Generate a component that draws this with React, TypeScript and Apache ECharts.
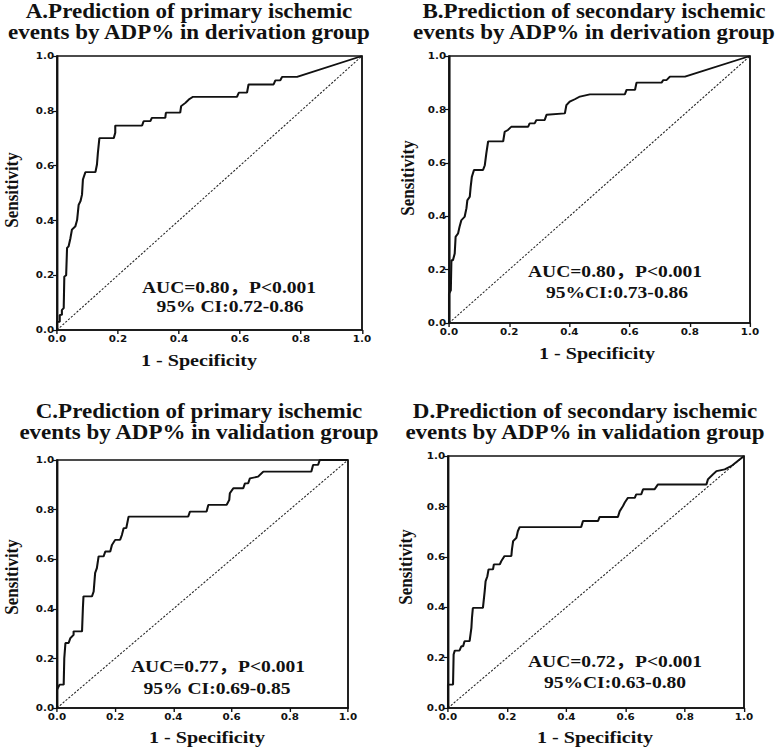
import React, { useEffect, useRef } from "react";
import * as echarts from "echarts";

// ---------- data ----------
const rocA: [number, number][] = [
  [0, 0], [0, 0.03], [0.009, 0.03], [0.009, 0.055], [0.016, 0.055], [0.016, 0.073], [0.022, 0.08], [0.024, 0.08],
  [0.024, 0.195], [0.03, 0.2], [0.033, 0.3], [0.038, 0.305], [0.044, 0.335], [0.049, 0.366], [0.06, 0.378],
  [0.066, 0.402], [0.071, 0.457], [0.077, 0.47], [0.082, 0.494], [0.085, 0.549], [0.093, 0.576], [0.126, 0.576],
  [0.131, 0.604], [0.134, 0.646], [0.139, 0.7], [0.186, 0.7], [0.191, 0.72], [0.191, 0.746], [0.279, 0.746],
  [0.284, 0.762], [0.306, 0.762], [0.311, 0.774], [0.355, 0.774], [0.357, 0.793], [0.404, 0.793], [0.407, 0.817],
  [0.421, 0.829], [0.432, 0.841], [0.446, 0.851], [0.59, 0.851], [0.596, 0.866], [0.623, 0.866], [0.628, 0.896],
  [0.71, 0.896], [0.716, 0.911], [0.732, 0.911], [0.738, 0.924], [0.787, 0.924], [1, 1],
];
const rocB: [number, number][] = [
  [0, 0], [0, 0.11], [0.006, 0.122], [0.008, 0.122], [0.008, 0.235], [0.013, 0.235], [0.019, 0.26], [0.022, 0.323],
  [0.03, 0.335], [0.035, 0.36], [0.041, 0.385], [0.052, 0.398], [0.058, 0.43], [0.061, 0.46], [0.069, 0.473],
  [0.072, 0.51], [0.076, 0.548], [0.083, 0.573], [0.113, 0.573], [0.119, 0.591], [0.124, 0.635], [0.13, 0.68],
  [0.18, 0.68], [0.185, 0.716], [0.196, 0.723], [0.207, 0.735], [0.263, 0.735], [0.268, 0.748], [0.285, 0.748],
  [0.29, 0.76], [0.318, 0.76], [0.324, 0.78], [0.385, 0.785], [0.39, 0.816], [0.401, 0.829], [0.418, 0.838],
  [0.435, 0.848], [0.468, 0.856], [0.584, 0.856], [0.59, 0.873], [0.618, 0.873], [0.623, 0.9], [0.706, 0.9],
  [0.712, 0.91], [0.723, 0.91], [0.734, 0.923], [0.784, 0.923], [1, 1],
];
const rocC: [number, number][] = [
  [0, 0], [0, 0.074], [0.009, 0.094], [0.023, 0.094], [0.025, 0.2], [0.029, 0.262], [0.04, 0.262], [0.046, 0.282],
  [0.057, 0.295], [0.057, 0.309], [0.086, 0.309], [0.089, 0.403], [0.091, 0.45], [0.12, 0.45], [0.126, 0.47],
  [0.131, 0.544], [0.137, 0.564], [0.143, 0.611], [0.16, 0.611], [0.166, 0.631], [0.183, 0.631], [0.189, 0.658],
  [0.2, 0.678], [0.217, 0.678], [0.223, 0.698], [0.229, 0.725], [0.238, 0.725], [0.246, 0.772], [0.451, 0.772],
  [0.457, 0.792], [0.514, 0.792], [0.52, 0.819], [0.583, 0.819], [0.592, 0.839], [0.594, 0.866], [0.606, 0.886],
  [0.64, 0.886], [0.646, 0.906], [0.657, 0.906], [0.663, 0.926], [0.691, 0.933], [0.709, 0.953], [0.874, 0.953],
  [0.88, 0.98], [0.897, 0.98], [0.903, 1], [1, 1],
];
const rocD: [number, number][] = [
  [0, 0], [0, 0.093], [0.017, 0.093], [0.019, 0.212], [0.023, 0.228], [0.039, 0.228], [0.045, 0.245], [0.051, 0.245],
  [0.056, 0.265], [0.073, 0.265], [0.079, 0.318], [0.081, 0.358], [0.084, 0.397], [0.118, 0.397], [0.124, 0.464],
  [0.127, 0.503], [0.133, 0.523], [0.137, 0.55], [0.152, 0.55], [0.155, 0.57], [0.175, 0.57], [0.18, 0.583],
  [0.191, 0.603], [0.214, 0.603], [0.216, 0.629], [0.22, 0.662], [0.231, 0.675], [0.236, 0.702], [0.242, 0.718],
  [0.45, 0.718], [0.456, 0.742], [0.507, 0.742], [0.512, 0.758], [0.574, 0.758], [0.58, 0.781], [0.591, 0.801],
  [0.597, 0.815], [0.608, 0.834], [0.631, 0.834], [0.636, 0.848], [0.653, 0.848], [0.659, 0.868], [0.698, 0.868],
  [0.709, 0.887], [0.873, 0.887], [0.878, 0.907], [0.895, 0.927], [0.907, 0.94], [0.935, 0.947], [0.957, 0.96],
  [1, 1],
];
const referenceLine: [number, number][] = [[0, 0], [1, 1]];

const titlesA = ["A.Prediction of primary ischemic", "events by ADP% in derivation group"];
const titlesB = ["B.Prediction of secondary ischemic", "events by ADP% in derivation group"];
const titlesC = ["C.Prediction of primary ischemic", "events by ADP% in validation group"];
const titlesD = ["D.Prediction of secondary ischemic", "events by ADP% in validation group"];
const statsA = ["AUC=0.80，P<0.001", "95% CI:0.72-0.86"];
const statsB = ["AUC=0.80，P<0.001", "95%CI:0.73-0.86"];
const statsC = ["AUC=0.77，P<0.001", "95% CI:0.69-0.85"];
const statsD = ["AUC=0.72，P<0.001", "95%CI:0.63-0.80"];
const xAxisName = "1 - Specificity";
const yAxisName = "Sensitivity";

// ---------- layout ----------
const S = 1.15; // horizontal stretch of the reference picture
const W = 778;
const H = 748;
const sx = (v: number) => v / S;

type Box = { l: number; t: number; r: number; b: number };
const panels = [
  {
    data: rocA, titles: titlesA, stats: statsA,
    box: { l: 57, t: 56, r: 362, b: 330 } as Box,
    title: { x: 189, y1: 11.5, y2: 33 },
    stat: { x1: 229, y1: 287, x2: 230, y2: 306 },
    yName: { x: 12, y: 190 }, xName: { x: 199, y: 360 },
  },
  {
    data: rocB, titles: titlesB, stats: statsB,
    box: { l: 449, t: 56, r: 750, b: 323 } as Box,
    title: { x: 594, y1: 11.5, y2: 33 },
    stat: { x1: 615, y1: 271, x2: 617, y2: 292 },
    yName: { x: 408, y: 178 }, xName: { x: 597, y: 353 },
  },
  {
    data: rocC, titles: titlesC, stats: statsC,
    box: { l: 57, t: 460, r: 348, b: 708 } as Box,
    title: { x: 199, y1: 411.5, y2: 433 },
    stat: { x1: 218, y1: 666, x2: 217, y2: 688 },
    yName: { x: 12, y: 577 }, xName: { x: 207, y: 737 },
  },
  {
    data: rocD, titles: titlesD, stats: statsD,
    box: { l: 448, t: 456, r: 744, b: 708 } as Box,
    title: { x: 585, y1: 411.5, y2: 433 },
    stat: { x1: 615, y1: 661, x2: 615, y2: 682 },
    yName: { x: 406, y: 567 }, xName: { x: 595, y: 737 },
  },
];

const serif = "'Liberation Serif', 'Noto Sans CJK SC', 'Times New Roman', serif";

function buildOption() {
  const grid: any[] = [];
  const xAxis: any[] = [];
  const yAxis: any[] = [];
  const series: any[] = [];
  const graphic: any[] = [];

  const axisCommon = {
    type: "value",
    min: 0,
    max: 1,
    interval: 0.2,
    splitLine: { show: false },
    axisLine: { show: true, lineStyle: { color: "#111", width: 1.6 } },
    axisTick: { show: true, inside: false, length: 4, lineStyle: { color: "#111", width: 1.2 } },
    axisLabel: {
      color: "#111",
      fontFamily: "'DejaVu Sans', sans-serif",
      fontWeight: "bold",
      fontSize: 9,
      formatter: (v: number) => v.toFixed(1),
    },
  };

  panels.forEach((p, i) => {
    const b = p.box;
    grid.push({
      left: sx(b.l),
      top: b.t,
      width: sx(b.r - b.l),
      height: b.b - b.t,
      show: true,
      borderColor: "#111",
      borderWidth: 1.6,
      backgroundColor: "transparent",
      containLabel: false,
    });
    xAxis.push({
      ...axisCommon,
      gridIndex: i,
      axisLabel: { ...axisCommon.axisLabel, margin: 4, showMinLabel: true, showMaxLabel: true },
    });
    yAxis.push({
      ...axisCommon,
      gridIndex: i,
      axisTick: { ...axisCommon.axisTick, length: 3.5 },
      axisLabel: { ...axisCommon.axisLabel, margin: 2.5, showMinLabel: true, showMaxLabel: true },
    });
    series.push({
      type: "line",
      xAxisIndex: i,
      yAxisIndex: i,
      data: referenceLine,
      showSymbol: false,
      symbol: "none",
      lineStyle: { color: "#222", width: 1, type: [2, 1.5] },
      silent: true,
      z: 2,
    });
    series.push({
      type: "line",
      xAxisIndex: i,
      yAxisIndex: i,
      data: p.data,
      showSymbol: false,
      symbol: "none",
      lineStyle: { color: "#111", width: 1.8 },
      silent: true,
      z: 3,
    });

    const txt = (x: number, y: number, text: string, size: number, rotation = 0) => ({
      type: "text",
      x: sx(x),
      y,
      rotation,
      silent: true,
      style: {
        text,
        fill: "#111",
        fontFamily: serif,
        fontWeight: "bold",
        fontSize: size,
        textAlign: "center",
        textVerticalAlign: "middle",
      },
    });
    graphic.push(txt(p.title.x, p.title.y1, p.titles[0], 20));
    graphic.push(txt(p.title.x, p.title.y2, p.titles[1], 20));
    graphic.push(txt(p.stat.x1, p.stat.y1, p.stats[0], 17));
    graphic.push(txt(p.stat.x2, p.stat.y2, p.stats[1], 17));
    graphic.push(txt(p.xName.x, p.xName.y, xAxisName, 17.5));
    graphic.push(txt(p.yName.x, p.yName.y, yAxisName, 17, Math.PI / 2));
  });

  return {
    animation: false,
    backgroundColor: "#fff",
    grid,
    xAxis,
    yAxis,
    series,
    graphic: { elements: graphic },
  };
}

export default function App() {
  const ref = useRef<HTMLDivElement>(null);
  useEffect(() => {
    if (!ref.current) return;
    const chart = echarts.init(ref.current, undefined, { renderer: "svg" });
    chart.setOption(buildOption() as any);
    return () => chart.dispose();
  }, []);
  return (
    <div style={{ position: "fixed", left: 0, top: 0, width: W, height: H, overflow: "hidden", background: "#fff" }}>
      <div
        ref={ref}
        style={{ width: sx(W), height: H, transform: `scaleX(${S})`, transformOrigin: "0 0" }}
      />
    </div>
  );
}
